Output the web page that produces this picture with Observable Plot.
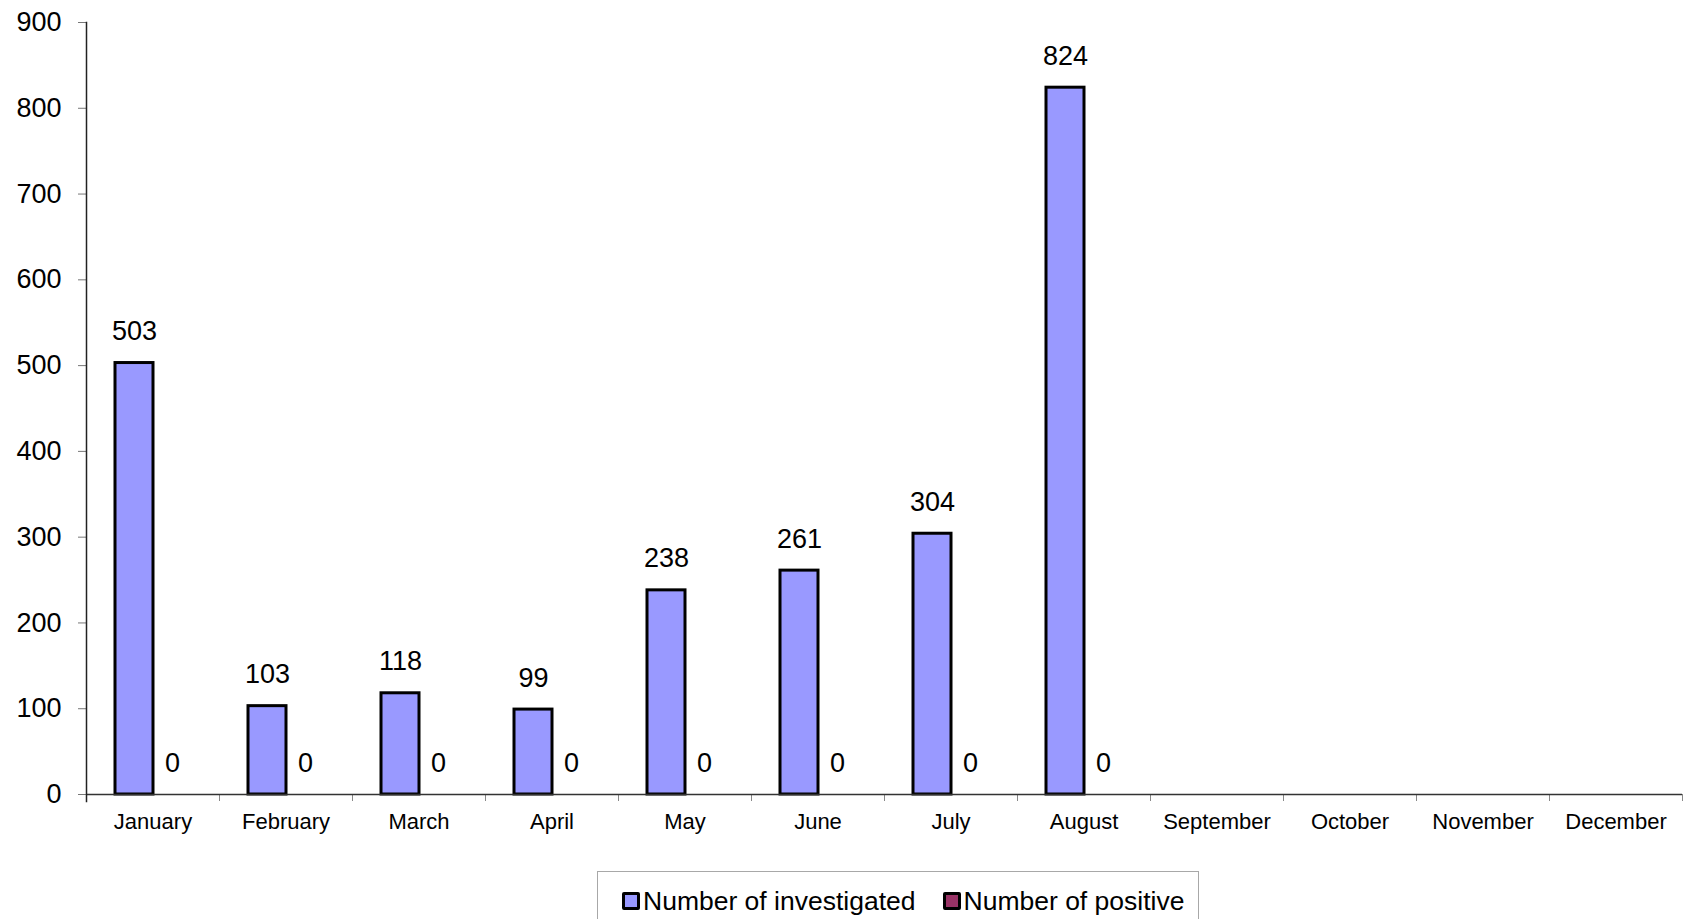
<!DOCTYPE html>
<html>
<head>
<meta charset="utf-8">
<script src="https://cdn.jsdelivr.net/npm/d3@7"></script>
<script src="https://cdn.jsdelivr.net/npm/@observablehq/plot@0.6"></script>
<style>
  html, body { margin: 0; padding: 0; background: #fff; }
  body { font-family: "Liberation Sans", Arial, sans-serif; width: 1690px; height: 919px; overflow: hidden; position: relative; }
  #legend {
    position: absolute; left: 597px; top: 871px; width: 602px; height: 70px;
    border: 1.5px solid #a8a8a8; box-sizing: border-box; background: #fff;
    display: flex; align-items: flex-start; padding-left: 24px; padding-top: 12px;
  }
  .item { display: flex; align-items: center; font-size: 26.5px; line-height: 34px; color: #000; }
  .sw { width: 12px; height: 12px; border: 3px solid #000; border-radius: 2px; margin-right: 3px; }
</style>
</head>
<body>
<div id="chart"></div>
<div id="legend"></div>
<script>
const months = ["January","February","March","April","May","June","July","August","September","October","November","December"];
const seriesNames = ["Number of investigated","Number of positive"];
const seriesColors = ["#9999FF","#993366"];
const investigated = [503,103,118,99,238,261,304,824];
const positive = [0,0,0,0,0,0,0,0];
const yTicks = [0,100,200,300,400,500,600,700,800,900];

const data = [];
investigated.forEach((v,i) => {
  data.push({month: months[i], series: seriesNames[0], value: v});
  data.push({month: months[i], series: seriesNames[1], value: positive[i]});
});

const W = 1690, H = 860, mL = 86, mR = 8, mT = 22, mB = 66;
const bw = (W - mL - mR) / months.length;

const plot = Plot.plot({
  width: W, height: H,
  marginLeft: mL, marginRight: mR, marginTop: mT, marginBottom: mB,
  style: {fontFamily: "'Liberation Sans', Arial, sans-serif", background: "#fff", overflow: "visible", color: "#000"},
  fx: {domain: months, padding: 0, label: null},
  x: {domain: seriesNames, paddingInner: 0, paddingOuter: 0.75, axis: null},
  y: {domain: [0, 900], label: null},
  color: {domain: seriesNames, range: seriesColors},
  marks: [
    Plot.axisY({ticks: yTicks, tickSize: 8, tickPadding: 17, fontSize: 27, stroke: "#777", fill: "#000", label: null}),
    Plot.axisFx({anchor: "bottom", tickSize: 7, dx: bw / 2, fill: "none", stroke: "#888", label: null}),
    Plot.axisFx({anchor: "bottom", tickSize: 0, tickPadding: 19, fontSize: 22, fill: "#000", label: null}),
    Plot.barY(data.filter(d => d.value > 0), {fx: "month", x: "series", y: "value", fill: "series", stroke: "#000", strokeWidth: 3}),
    Plot.ruleY([0], {stroke: "#333", strokeWidth: 1.5}),
    Plot.ruleY([0], {facetAnchor: "empty", stroke: "#333", strokeWidth: 1.5}),
    Plot.frame({anchor: "left", facetAnchor: "left", stroke: "#222", strokeWidth: 1.5, insetBottom: -7}),
    Plot.text(data, {fx: "month", x: "series", y: "value", text: d => String(d.value), dy: -23, lineAnchor: "bottom", fontSize: 27, fill: "#000"})
  ]
});
document.getElementById("chart").appendChild(plot);

const legend = document.getElementById("legend");
seriesNames.forEach((name, i) => {
  const item = document.createElement("div");
  item.className = "item";
  if (i > 0) item.style.marginLeft = "27px";
  const sw = document.createElement("span");
  sw.className = "sw";
  sw.style.background = seriesColors[i];
  item.appendChild(sw);
  item.appendChild(document.createTextNode(name));
  legend.appendChild(item);
});
</script>
</body>
</html>
